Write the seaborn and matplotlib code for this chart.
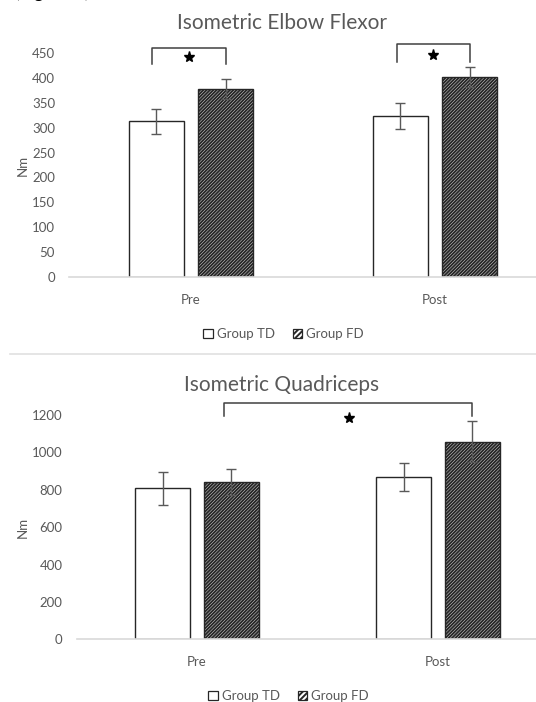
import pandas as pd
import numpy as np
import matplotlib
matplotlib.use('Agg')
import matplotlib.pyplot as plt
import seaborn as sns

# --- data ---
times = ['Pre', 'Post']
groups = ['Group TD', 'Group FD']

elbow_td = [313, 323]
elbow_fd = [377, 402]
elbow_td_err = [25, 26]
elbow_fd_err = [20, 20]

quad_td = [808, 868]
quad_fd = [841, 1057]
quad_td_err = [88, 74]
quad_fd_err = [68, 110]

elbow_ticks = [0, 50, 100, 150, 200, 250, 300, 350, 400, 450]
quad_ticks = [0, 200, 400, 600, 800, 1000, 1200]

GRAY = '#595959'
plt.rcParams['font.family'] = ['Lato', 'DejaVu Sans']
plt.rcParams['hatch.linewidth'] = 1.4


def make_df(td, fd):
    rows = []
    for i, t in enumerate(times):
        rows.append({'time': t, 'group': groups[0], 'value': td[i]})
        rows.append({'time': t, 'group': groups[1], 'value': fd[i]})
    return pd.DataFrame(rows)


def draw_panel(ax, td, fd, td_err, fd_err, ticks, title):
    df = make_df(td, fd)
    sns.barplot(data=df, x='time', y='value', hue='group', order=times,
                hue_order=groups, palette=['white', 'white'], width=0.572,
                gap=0.213, edgecolor='#262626', linewidth=1.0, ax=ax,
                legend=True)
    # patches: first hue (TD) bars, then FD bars
    bars = [p for p in ax.patches if p.get_height() > 0]
    td_bars, fd_bars = bars[:2], bars[2:4]
    for p in fd_bars:
        p.set_hatch('//////////')
    for blist, errs in [(td_bars, td_err), (fd_bars, fd_err)]:
        xs = [p.get_x() + p.get_width() / 2 for p in blist]
        ys = [p.get_height() for p in blist]
        ax.errorbar(xs, ys, yerr=errs, fmt='none', ecolor=GRAY,
                    elinewidth=1.0, capsize=3.5, capthick=1.0)
    ax.set_ylim(0, ticks[-1])
    ax.set_yticks(ticks)
    ax.set_xlim(-0.5, 1.5)
    ax.tick_params(axis='both', length=0, colors=GRAY, labelsize=9.5)
    ax.tick_params(axis='x', pad=12)
    ax.tick_params(axis='y', pad=10)
    for s in ['top', 'right', 'left']:
        ax.spines[s].set_visible(False)
    ax.spines['bottom'].set_color('#d9d9d9')
    ax.spines['bottom'].set_linewidth(1.2)
    ax.set_xlabel('')
    ax.set_ylabel('Nm', color=GRAY, fontsize=9.5, labelpad=2)
    ax.set_title(title, color=GRAY, fontsize=15, pad=17,
                 x=(282 - ax.get_position().x0 * 536) / (ax.get_position().width * 536))
    leg = ax.legend(loc='upper center', bbox_to_anchor=(0.44, -0.175), ncol=2,
                    frameon=False, fontsize=9.5, handlelength=0.7,
                    handleheight=0.7, handletextpad=0.3, columnspacing=1.4,
                    labelcolor=GRAY)
    for h in leg.legend_handles:
        h.set_edgecolor('#262626')
        h.set_linewidth(0.9)
    leg.legend_handles[1].set_hatch('//////')
    return td_bars, fd_bars


def bracket(ax, x0, x1, y_top, y_bot, star_x, star_y):
    ax.plot([x0, x0, x1, x1], [y_bot, y_top, y_top, y_bot], color='#404040',
            lw=1.1, clip_on=False, solid_joinstyle='round')
    ax.plot([star_x], [star_y], marker='*', color='black', markersize=8,
            clip_on=False, linestyle='none')


fig = plt.figure(figsize=(5.36, 7.02), dpi=100)
W, H = 536, 702

# axes positions in pixels (left, bottom from top, right, top from top)
ax1 = fig.add_axes([69 / W, 1 - 277 / H, 488 / W, (277 - 53) / H])
ax2 = fig.add_axes([76.5 / W, 1 - 639.3 / H, 482 / W, (639.3 - 415) / H])

draw_panel(ax1, elbow_td, elbow_fd, elbow_td_err, elbow_fd_err, elbow_ticks,
           'Isometric Elbow Flexor')
draw_panel(ax2, quad_td, quad_fd, quad_td_err, quad_fd_err, quad_ticks,
           'Isometric Quadriceps')

# significance brackets
bracket(ax1, -0.16, 0.143, 460, 428, -0.01, 441)
bracket(ax1, 1 - 0.156, 1.143, 469, 432, 0.99, 446)
bracket(ax2, 0.112, 1.143, 1265, 1194, 0.63, 1182)

# separator line between panels
fig.add_artist(plt.Line2D([10 / W, 1.0], [1 - 354 / H, 1 - 354 / H],
                          color='#e0e0e0', lw=1.2))

# caption cut off by the top edge, as in the source image
fig.text(15 / W, 1 + 2 / H, '(Figure 2)', fontsize=13, color='black',
         va='baseline', ha='left')

fig.savefig('out.png', dpi=100)
